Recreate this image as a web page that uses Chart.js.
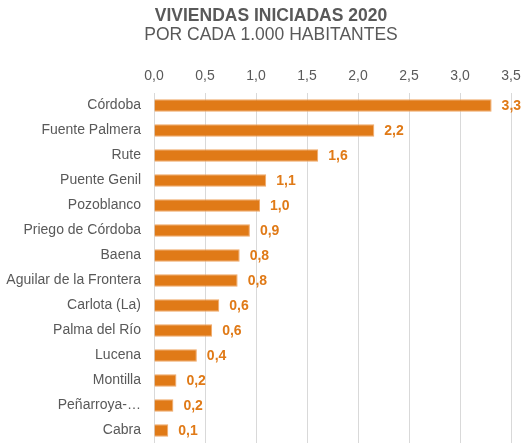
<!DOCTYPE html>
<html lang="es">
<head>
    <meta charset="UTF-8">
    <title>Viviendas iniciadas 2020</title>
    <script src="https://cdn.jsdelivr.net/npm/chart.js@4.4.0/dist/chart.umd.min.js"></script>
    <style>
        html, body {
            margin: 0;
            padding: 0;
            background: #fff;
            overflow: hidden;
        }
        #myChart {
            display: block;
        }
    </style>
</head>
<body>
<canvas id="myChart" width="523" height="443"></canvas>
<script>
    // datos
    const municipios = ['Córdoba', 'Fuente Palmera', 'Rute', 'Puente Genil', 'Pozoblanco', 'Priego de Córdoba',
        'Baena', 'Aguilar de la Frontera', 'Carlota (La)', 'Palma del Río', 'Lucena', 'Montilla', 'Peñarroya-…', 'Cabra'];
    const viviendas = [3.31, 2.16, 1.61, 1.10, 1.04, 0.94, 0.84, 0.82, 0.64, 0.57, 0.42, 0.22, 0.19, 0.14];
    const ejeTicks = [0, 0.5, 1, 1.5, 2, 2.5, 3, 3.5];
    const titulo = 'VIVIENDAS INICIADAS 2020';
    const subtitulo = 'POR CADA 1.000 HABITANTES';

    const naranja = '#E07A17';
    const gris = '#595959';
    const fuente = '"Liberation Sans", Arial, sans-serif';

    function coma(v, dec) {
        return (Math.round(v * 10) / 10).toFixed(dec).replace('.', ',');
    }

    // titulo + etiquetas al final de cada barra
    const extras = {
        id: 'extras',
        afterDraw(chart) {
            const ctx = chart.ctx;
            ctx.save();
            ctx.fillStyle = gris;
            ctx.textAlign = 'center';
            ctx.textBaseline = 'alphabetic';
            ctx.font = 'bold 17.5px ' + fuente;
            ctx.fillText(titulo, 271, 20.5);
            ctx.font = '17.5px ' + fuente;
            ctx.fillText(subtitulo, 271, 39.5);

            const meta = chart.getDatasetMeta(0);
            ctx.font = 'bold 14px ' + fuente;
            ctx.fillStyle = naranja;
            ctx.textAlign = 'left';
            ctx.textBaseline = 'middle';
            meta.data.forEach(function (bar, i) {
                ctx.fillText(coma(viviendas[i], 1), bar.x + 10, bar.y + 1);
            });
            ctx.restore();
        }
    };

    const ctx = document.getElementById('myChart').getContext('2d');
    const myChart = new Chart(ctx, {
        type: 'bar',
        data: {
            labels: municipios,
            datasets: [{
                data: viviendas,
                backgroundColor: naranja,
                borderColor: '#F0A868',
                borderWidth: 1,
                categoryPercentage: 1,
                barPercentage: 0.5
            }]
        },
        plugins: [extras],
        options: {
            indexAxis: 'y',
            responsive: false,
            animation: false,
            layout: {
                autoPadding: false,
                padding: {top: 68, right: 12, bottom: 0, left: 0}
            },
            plugins: {
                legend: {display: false},
                tooltip: {enabled: false}
            },
            scales: {
                x: {
                    position: 'top',
                    min: 0,
                    max: 3.5,
                    afterBuildTicks(scale) {
                        scale.ticks = ejeTicks.map(v => ({value: v}));
                    },
                    afterFit(scale) {
                        scale.height = 25;
                        scale.paddingLeft = 0;
                        scale.paddingRight = 0;
                    },
                    ticks: {
                        color: gris,
                        padding: 8,
                        font: {family: fuente, size: 14},
                        callback: v => coma(v, 1)
                    },
                    grid: {
                        color: '#D9D9D9',
                        drawTicks: false
                    },
                    border: {display: false}
                },
                y: {
                    afterFit(scale) {
                        scale.width = 154;
                        scale.paddingTop = 0;
                        scale.paddingBottom = 0;
                    },
                    ticks: {
                        color: gris,
                        padding: 5,
                        font: {family: fuente, size: 14}
                    },
                    grid: {display: false},
                    border: {display: false}
                }
            }
        }
    });
</script>
</body>
</html>
